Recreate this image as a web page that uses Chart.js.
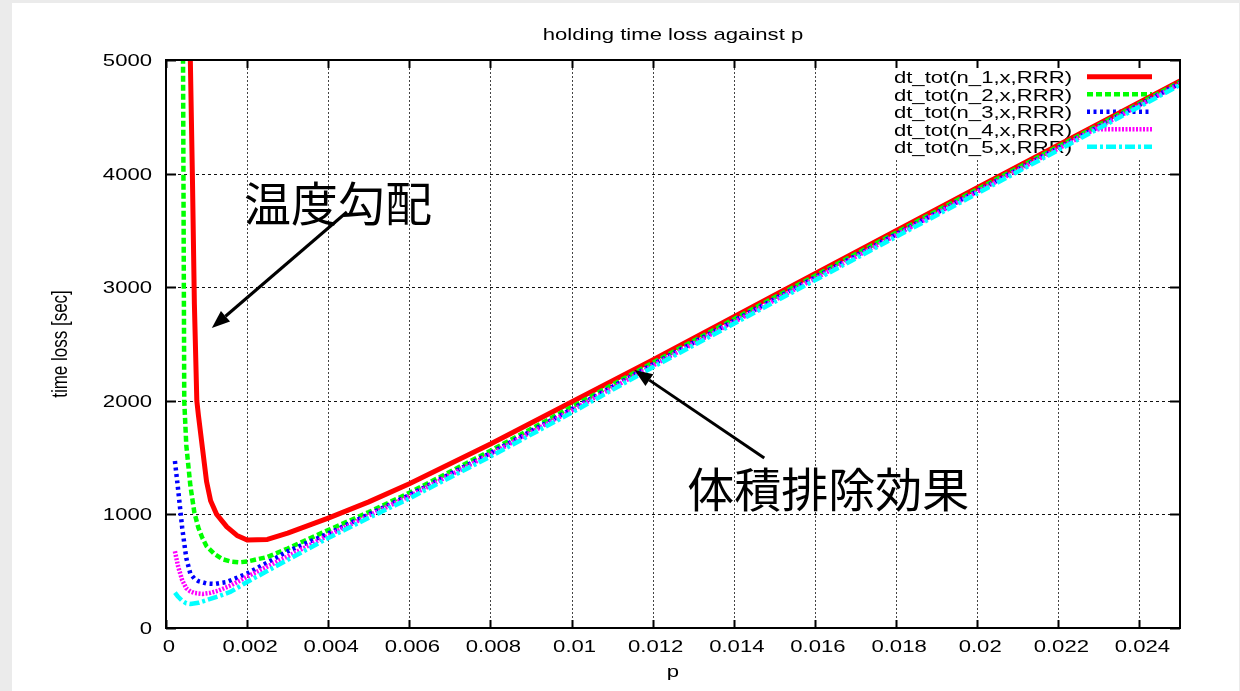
<!DOCTYPE html>
<html>
<head>
<meta charset="utf-8">
<script src="https://cdn.jsdelivr.net/npm/chart.js@4.4.0/dist/chart.umd.min.js"></script>
<style>
  html, body { margin: 0; padding: 0; background: #ebebeb; }
  canvas { display: block; }
</style>
</head>
<body>
<canvas id="c" width="1240" height="691"></canvas>
<script>
// ---- text ----
const chartTitle = 'holding time loss against p';
const xTitle = 'p';
const yTitle = 'time loss [sec]';
const seriesNames = [
  'dt_tot(n_1,x,RRR)',
  'dt_tot(n_2,x,RRR)',
  'dt_tot(n_3,x,RRR)',
  'dt_tot(n_4,x,RRR)',
  'dt_tot(n_5,x,RRR)'
];

// ---- axes ----
const xMin = 0, xMax = 0.025;
const yMin = 0, yMax = 5000;
const xTickValues = [0, 0.002, 0.004, 0.006, 0.008, 0.01, 0.012, 0.014, 0.016, 0.018, 0.02, 0.022, 0.024];
const xTickLabels = ['0', '0.002', '0.004', '0.006', '0.008', '0.01', '0.012', '0.014', '0.016', '0.018', '0.02', '0.022', '0.024'];
const yTickValues = [0, 1000, 2000, 3000, 4000, 5000];
const yTickLabels = ['0', '1000', '2000', '3000', '4000', '5000'];

// ---- series: p and time loss [sec] ----
const p1 = [0.00055, 0.0006, 0.00065, 0.0007, 0.00076, 0.0008, 0.0009, 0.001, 0.0011, 0.00125, 0.0015, 0.00175, 0.002, 0.0025, 0.003, 0.004, 0.005, 0.006, 0.008, 0.01, 0.012, 0.015, 0.02, 0.025];
const t1 = [6200, 5000, 4000, 2850, 2000, 1870, 1580, 1290, 1120, 1000, 890, 815, 775, 780, 835, 968, 1110, 1270, 1620, 1990, 2360, 2930, 3875, 4815];

const p2 = [0.0004, 0.00045, 0.0005, 0.0006, 0.0007, 0.0008, 0.0009, 0.001, 0.0012, 0.0014, 0.0016, 0.0018, 0.002, 0.0025, 0.003, 0.004, 0.005, 0.006, 0.008, 0.01, 0.012, 0.015, 0.02, 0.025];
const t2 = [7000, 2000, 1610, 1255, 1015, 880, 790, 720, 650, 605, 585, 578, 585, 625, 700, 862, 1020, 1190, 1560, 1945, 2335, 2910, 3860, 4805];

const p3 = [0.00022, 0.0003, 0.0004, 0.0005, 0.0006, 0.0007, 0.0008, 0.001, 0.0012, 0.0015, 0.002, 0.0027, 0.003, 0.004, 0.005, 0.006, 0.008, 0.01, 0.012, 0.015, 0.02, 0.025];
const t3 = [1470, 1215, 880, 615, 478, 435, 412, 392, 388, 405, 480, 615, 675, 832, 1000, 1170, 1540, 1925, 2320, 2895, 3845, 4795];

const p4 = [0.00022, 0.0003, 0.0004, 0.0005, 0.0006, 0.0007, 0.0009, 0.0011, 0.0013, 0.0016, 0.002, 0.003, 0.004, 0.005, 0.006, 0.008, 0.01, 0.012, 0.015, 0.02, 0.025];
const t4 = [675, 540, 420, 350, 322, 308, 300, 310, 330, 375, 452, 630, 815, 990, 1160, 1530, 1915, 2310, 2885, 3840, 4790];

const p5 = [0.00022, 0.0003, 0.0004, 0.0005, 0.0006, 0.0008, 0.001, 0.0013, 0.0016, 0.002, 0.003, 0.004, 0.005, 0.006, 0.008, 0.01, 0.012, 0.015, 0.02, 0.025];
const t5 = [312, 275, 240, 218, 212, 222, 245, 280, 320, 405, 600, 792, 970, 1140, 1510, 1895, 2295, 2870, 3825, 4780];

// ---- annotations (data coordinates) ----
const notes = [
  { text: '温度勾配',     at: [0.00424, 3741], from: [0.00446, 3662], to: [0.00113, 2641] },
  { text: '体積排除効果', at: [0.01633, 1224], from: [0.01475, 1496], to: [0.01155, 2271] }
];

// ---- drawing helpers ----
const LATIN = '17px "Liberation Sans", Arial, sans-serif';
const WIDE = 1.3;   // horizontal stretch of the latin labels

function wideText(ctx, str, x, y, align) {
  ctx.save();
  ctx.translate(x, y);
  ctx.scale(WIDE, 1);
  ctx.textAlign = align;
  ctx.textBaseline = 'alphabetic';
  ctx.fillText(str, 0, 0);
  ctx.restore();
}

function pairs(ps, ts) {
  return ps.map((p, i) => ({ x: p, y: ts[i] }));
}

const styles = [
  { color: '#ff0000', dash: [], width: 5 },
  { color: '#00ff00', dash: [6, 3], width: 4.5 },
  { color: '#0000ff', dash: [3, 3.5], width: 4.5 },
  { color: '#ff00ff', dash: [2, 1.5], width: 4.5 },
  { color: '#00ffff', dash: [10, 3, 3, 3], width: 4.5 }
];
const seriesData = [pairs(p1, t1), pairs(p2, t2), pairs(p3, t3), pairs(p4, t4), pairs(p5, t5)];

const datasets = seriesData.map((d, i) => ({
  label: seriesNames[i],
  data: d,
  borderColor: styles[i].color,
  borderDash: styles[i].dash,
  borderWidth: styles[i].width,
  pointRadius: 0,
  tension: 0,
  fill: false,
  clip: 0,
  order: 5 - i
}));

const framePlugin = {
  id: 'gnuplotFrame',
  beforeDraw(chart) {
    const ctx = chart.ctx;
    ctx.save();
    ctx.fillStyle = '#ebebeb';
    ctx.fillRect(0, 0, chart.width, chart.height);
    ctx.fillStyle = '#ffffff';
    ctx.fillRect(12, 3, chart.width - 13, chart.height - 3);
    ctx.restore();
  },
  beforeDatasetsDraw(chart) {
    const ctx = chart.ctx;
    const a = chart.chartArea;
    const xs = chart.scales.x, ys = chart.scales.y;
    ctx.save();
    // grid
    ctx.lineWidth = 1;
    ctx.strokeStyle = '#111';
    ctx.setLineDash([3, 3]);
    yTickValues.forEach(v => {
      if (v === yMin || v === yMax) return;
      const y = Math.round(ys.getPixelForValue(v)) + 0.5;
      ctx.beginPath(); ctx.moveTo(a.left, y); ctx.lineTo(a.right, y); ctx.stroke();
    });
    ctx.strokeStyle = '#444';
    ctx.setLineDash([2, 2]);
    xTickValues.forEach(v => {
      if (v === xMin) return;
      const x = Math.round(xs.getPixelForValue(v)) + 0.5;
      ctx.beginPath(); ctx.moveTo(x, a.top); ctx.lineTo(x, a.bottom); ctx.stroke();
    });
    ctx.setLineDash([]);

    // key
    const keyRight = a.right;
    const keyTop = a.top;
    const rowH = 17.5;
    ctx.fillStyle = '#ffffff';
    ctx.fillRect(882, keyTop + 1, keyRight - 882, rowH * 5 + 10);
    ctx.font = LATIN;
    ctx.fillStyle = '#000';
    chart.data.datasets.forEach((ds, i) => {
      const base = keyTop + 23.3 + i * rowH;
      wideText(ctx, ds.label, keyRight - 108, base, 'right');
      const ly = base - 6.5;
      ctx.save();
      ctx.strokeStyle = ds.borderColor;
      ctx.lineWidth = ds.borderWidth;
      ctx.setLineDash(ds.borderDash);
      ctx.beginPath();
      ctx.moveTo(keyRight - 93, ly);
      ctx.lineTo(keyRight - 28, ly);
      ctx.stroke();
      ctx.restore();
    });
    ctx.restore();
  },
  afterDatasetsDraw(chart) {
    const ctx = chart.ctx;
    const a = chart.chartArea;
    const xs = chart.scales.x, ys = chart.scales.y;
    ctx.save();

    // annotations
    ctx.fillStyle = '#000';
    ctx.strokeStyle = '#000';
    notes.forEach(n => {
      const x0 = xs.getPixelForValue(n.from[0]), y0 = ys.getPixelForValue(n.from[1]);
      const x1 = xs.getPixelForValue(n.to[0]), y1 = ys.getPixelForValue(n.to[1]);
      const ang = Math.atan2(y1 - y0, x1 - x0);
      const head = 18, half = 7;
      const bx = x1 - head * Math.cos(ang), by = y1 - head * Math.sin(ang);
      ctx.lineWidth = 3;
      ctx.beginPath(); ctx.moveTo(x0, y0); ctx.lineTo(bx, by); ctx.stroke();
      ctx.beginPath();
      ctx.moveTo(x1, y1);
      ctx.lineTo(bx + half * Math.sin(ang), by - half * Math.cos(ang));
      ctx.lineTo(bx - half * Math.sin(ang), by + half * Math.cos(ang));
      ctx.closePath();
      ctx.fill();

      ctx.font = '47px "Noto Sans CJK JP", sans-serif';
      ctx.textAlign = 'center';
      ctx.textBaseline = 'middle';
      ctx.fillText(n.text, xs.getPixelForValue(n.at[0]), ys.getPixelForValue(n.at[1]));
    });

    // border
    ctx.lineWidth = 2;
    ctx.strokeStyle = '#000';
    ctx.strokeRect(a.left, a.top, a.right - a.left, a.bottom - a.top);

    // inward ticks on all four sides
    ctx.lineWidth = 2;
    xTickValues.forEach(v => {
      const x = Math.round(xs.getPixelForValue(v)) + 0.5;
      ctx.beginPath();
      ctx.moveTo(x, a.bottom); ctx.lineTo(x, a.bottom - 8);
      ctx.moveTo(x, a.top); ctx.lineTo(x, a.top + 8);
      ctx.stroke();
    });
    yTickValues.forEach(v => {
      const y = Math.round(ys.getPixelForValue(v)) + 0.5;
      ctx.beginPath();
      ctx.moveTo(a.left, y); ctx.lineTo(a.left + 10, y);
      ctx.moveTo(a.right, y); ctx.lineTo(a.right - 10, y);
      ctx.stroke();
    });

    // tick labels
    ctx.font = LATIN;
    ctx.fillStyle = '#000';
    xTickValues.forEach((v, i) => {
      wideText(ctx, xTickLabels[i], xs.getPixelForValue(v) + 3, a.bottom + 24, 'center');
    });
    yTickValues.forEach((v, i) => {
      wideText(ctx, yTickLabels[i], a.left - 14, ys.getPixelForValue(v) + 6, 'right');
    });

    // titles
    const cx = (a.left + a.right) / 2;
    wideText(ctx, chartTitle, cx, 39.5, 'center');
    wideText(ctx, xTitle, cx, a.bottom + 49, 'center');
    ctx.save();
    ctx.translate(67, (a.top + a.bottom) / 2);
    ctx.rotate(-Math.PI / 2);
    ctx.scale(1, WIDE);
    ctx.textAlign = 'center';
    ctx.textBaseline = 'alphabetic';
    ctx.fillText(yTitle, 0, 0);
    ctx.restore();

    ctx.restore();
  }
};

new Chart(document.getElementById('c'), {
  type: 'line',
  data: { datasets },
  options: {
    responsive: false,
    animation: false,
    devicePixelRatio: 1,
    layout: { padding: { left: 166, right: 60, top: 60, bottom: 63 } },
    plugins: { legend: { display: false }, title: { display: false }, tooltip: { enabled: false } },
    elements: { line: { borderCapStyle: 'butt', borderJoinStyle: 'round' } },
    scales: {
      x: {
        type: 'linear', min: xMin, max: xMax,
        ticks: { display: false }, grid: { display: false }, border: { display: false },
        afterFit(s) { s.height = 0; }
      },
      y: {
        type: 'linear', min: yMin, max: yMax,
        ticks: { display: false }, grid: { display: false }, border: { display: false },
        afterFit(s) { s.width = 0; }
      }
    }
  },
  plugins: [framePlugin]
});
</script>
</body>
</html>
